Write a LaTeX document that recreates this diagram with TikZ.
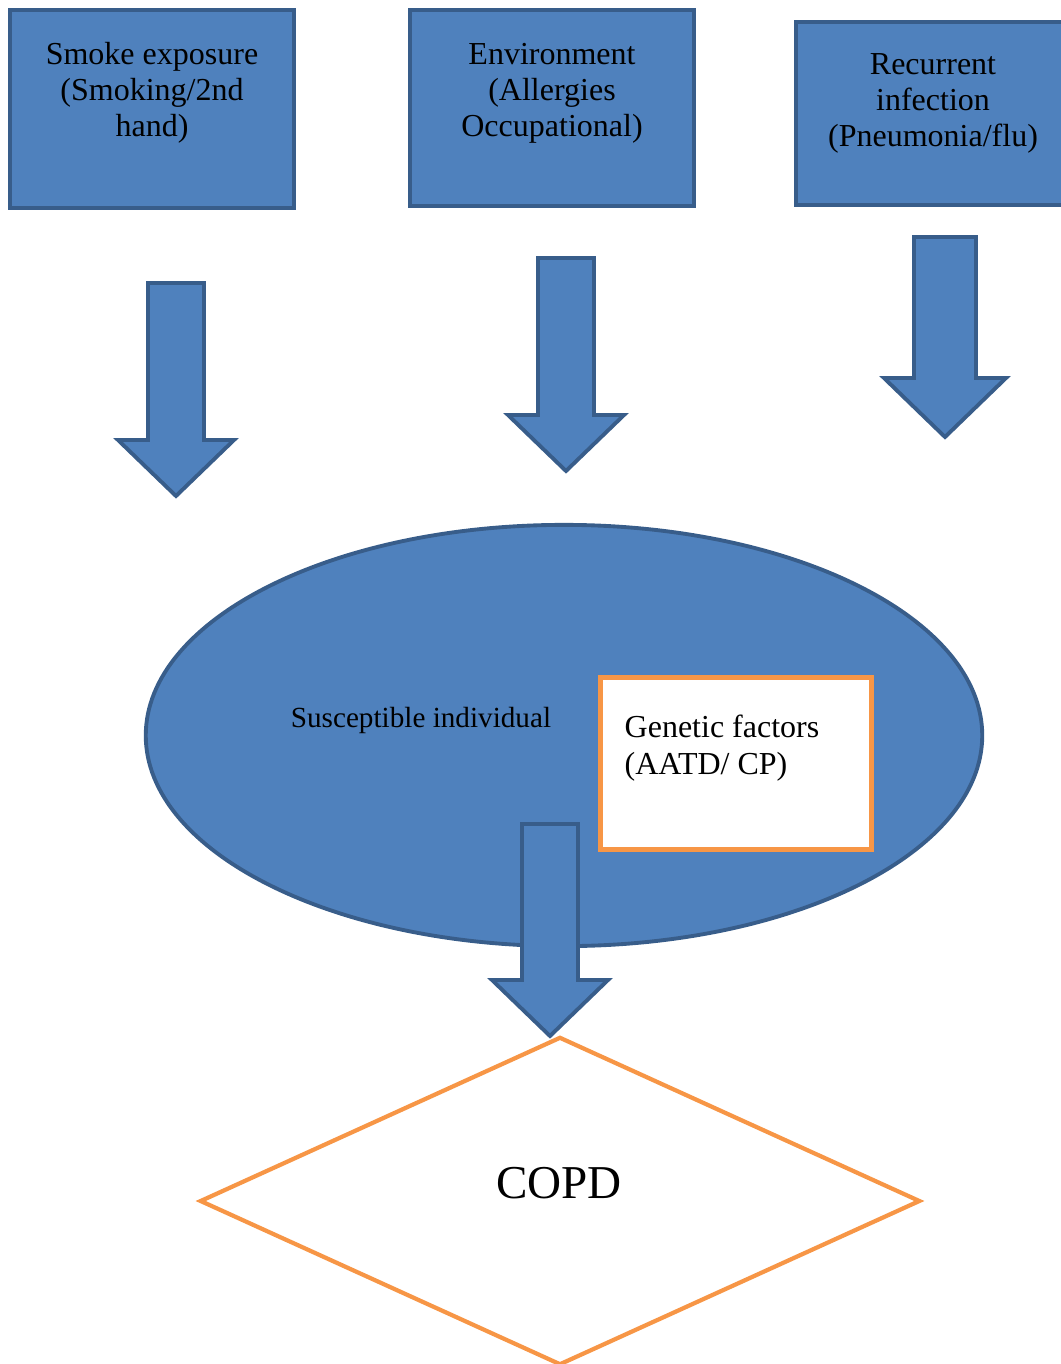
\documentclass[tikz,border=0pt]{standalone}
\usepackage{fontspec}
\setmainfont{Liberation Serif}
\usetikzlibrary{shapes.geometric}
\definecolor{boxblue}{HTML}{4F81BD}
\definecolor{edgeblue}{HTML}{385D8A}
\definecolor{lineorange}{HTML}{F79646}
% block arrow pointing down: centre x, shaft half width, head half width, top y, head y, tip y
\newcommand{\blockdown}[6]{%
  \draw[blockarrow] (#1-#2,#4) -- (#1+#2,#4) -- (#1+#2,#5) -- (#1+#3,#5)
    -- (#1,#6) -- (#1-#3,#5) -- (#1-#2,#5) -- cycle;}

\begin{document}
\begin{tikzpicture}[x=0.01cm,y=-0.01cm,
  cause box/.style={rectangle,draw=edgeblue,fill=boxblue,line width=1.3pt,inner sep=0pt},
  cause text/.style={align=center,font=\fontsize{9.1}{10.25}\selectfont,inner sep=0pt},
  blockarrow/.style={draw=edgeblue,fill=boxblue,line width=1.1pt,line join=miter},
  ]
  \useasboundingbox (0,0) rectangle (1060,1364);

  % risk factors
  \node[cause box,minimum width=2.84cm,minimum height=1.98cm] (smoke) at (152,109) {};
  \node[cause box,minimum width=2.84cm,minimum height=1.96cm] (envir) at (552,108) {};
  \node[cause box,minimum width=2.74cm,minimum height=1.83cm] (infect) at (933,113.5) {};
  \node[cause text] (smoketxt) at (152,93) {Smoke exposure\\(Smoking/2nd\\hand)};
  \node[cause text] (envirtxt) at (552,93) {Environment\\(Allergies\\Occupational)};
  \node[cause text] (infecttxt) at (933,103) {Recurrent\\infection\\(Pneumonia/flu)};

  \blockdown{176}{28}{58}{283}{440}{496}
  \blockdown{566}{28}{58}{258}{415}{471}
  \blockdown{945}{31}{61}{237}{378}{437}

  % host
  \node[ellipse,draw=edgeblue,fill=boxblue,line width=1.1pt,
    minimum width=8.36cm,minimum height=4.21cm,inner sep=0pt] (host) at (564,735.5) {};
  \node[font=\fontsize{8.3}{9.5}\selectfont,inner sep=0pt] (hosttxt) at (421,720) {Susceptible individual};
  \node[rectangle,draw=lineorange,fill=white,line width=1.4pt,
    minimum width=2.7cm,minimum height=1.71cm,inner sep=0pt] (genes) at (736,763.5) {};
  \node[align=left,anchor=west,font=\fontsize{9.1}{10.5}\selectfont,inner sep=0pt]
    (genestxt) at (624,748) {Genetic factors\\(AATD/ CP)};

  \blockdown{550}{28}{58}{824}{980}{1036}

  % outcome
  \node[diamond,draw=lineorange,fill=white,line width=1.2pt,
    minimum width=7.2cm,minimum height=3.28cm,inner sep=0pt] (copd) at (560,1201) {};
  \node[font=\fontsize{13.4}{15}\selectfont,inner sep=0pt] (copdtxt) at (559,1183) {COPD};
\end{tikzpicture}
\end{document}
